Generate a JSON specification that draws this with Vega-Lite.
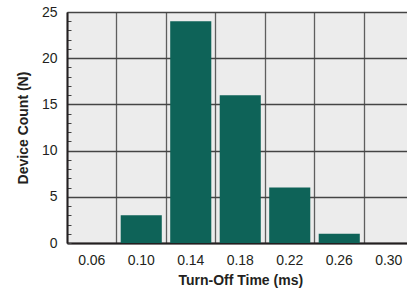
{
  "$schema": "https://vega.github.io/schema/vega-lite/v6.json",
  "autosize": "none",
  "padding": {"left": 67, "top": 12, "right": 0, "bottom": 50},
  "width": 346.5,
  "height": 231,
  "background": "white",
  "config": {
    "font": "Liberation Sans",
    "view": {"fill": "#ececec", "stroke": null}
  },
  "data": {"values": [
    {"time": "0.06", "count": 0},
    {"time": "0.10", "count": 3},
    {"time": "0.14", "count": 24},
    {"time": "0.18", "count": 16},
    {"time": "0.22", "count": 6},
    {"time": "0.26", "count": 1},
    {"time": "0.30", "count": 0}
  ]},
  "mark": {"type": "bar", "color": "#0e6358", "width": {"band": 0.83}},
  "encoding": {
    "x": {
      "field": "time", "type": "ordinal",
      "scale": {"domain": ["0.06","0.10","0.14","0.18","0.22","0.26","0.30"], "paddingInner": 0, "paddingOuter": 0},
      "axis": {
        "title": "Turn-Off Time (ms)",
        "titleFontSize": 14, "titleFontWeight": "bold", "titleColor": "#231f20", "titlePadding": 6,
        "labelAngle": 0, "labelFontSize": 14, "labelColor": "#231f20", "labelPadding": 10,
        "bandPosition": 0,
        "ticks": false,
        "grid": true, "gridColor": "#5e5e5e", "gridWidth": 1.3,
        "domain": true, "domainColor": "#231f20", "domainWidth": 2
      }
    },
    "y": {
      "field": "count", "type": "quantitative",
      "scale": {"domain": [0, 25], "nice": false},
      "axis": {
        "title": "Device Count (N)",
        "titleFontSize": 14, "titleFontWeight": "bold", "titleColor": "#231f20", "titlePadding": 11,
        "values": [0,1,2,3,4,5,6,7,8,9,10,11,12,13,14,15,16,17,18,19,20,21,22,23,24,25],
        "labelExpr": "datum.value % 5 === 0 ? datum.label : ''",
        "labelFontSize": 14, "labelColor": "#231f20", "labelPadding": 14,
        "ticks": true, "tickSize": -4, "tickColor": "#444", "tickWidth": 1,
        "grid": true,
        "gridOpacity": {"condition": {"test": "datum.value % 5 === 0", "value": 1}, "value": 0},
        "gridColor": "#444", "gridWidth": 1.3,
        "domain": true, "domainColor": "#231f20", "domainWidth": 2
      }
    }
  }
}
